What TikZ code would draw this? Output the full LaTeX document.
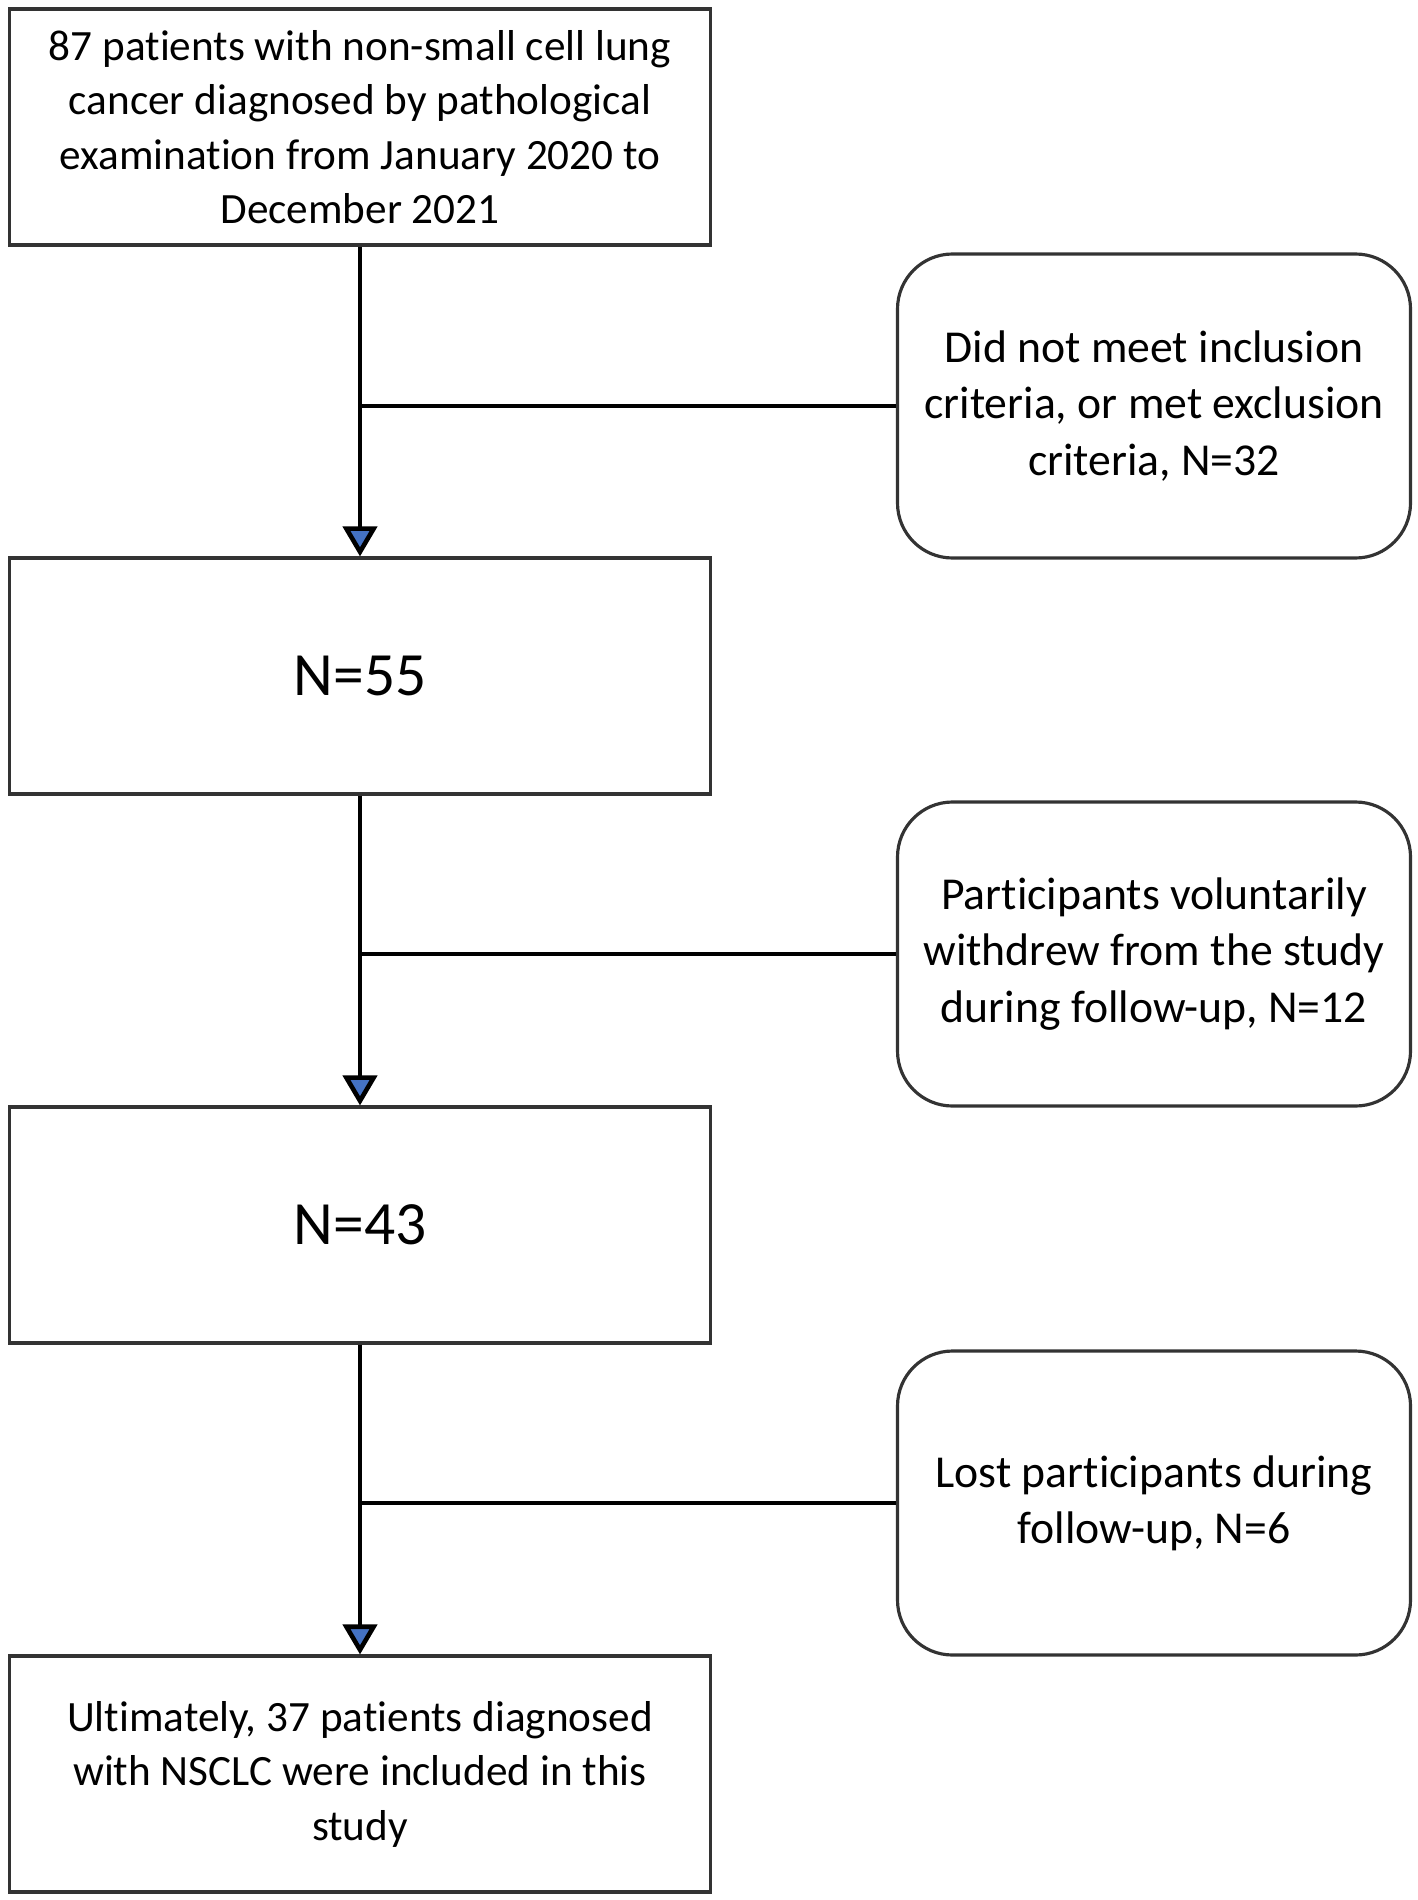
\documentclass[tikz,border=0pt]{standalone}
\usepackage{fontspec}
\setmainfont{Carlito}[Ligatures=NoCommon]
\usetikzlibrary{arrows.meta}
\definecolor{arrowblue}{RGB}{68,114,196}

\begin{document}
\begin{tikzpicture}
  [every node/.style={draw=black!80, line width=0.9pt, align=center, font=\fontsize{12.3}{15.5}\selectfont},
   mainbox/.style={minimum width=7.01cm, minimum height=2.36cm},
   sidebox/.style={rounded corners=0.55cm, minimum width=5.13cm, minimum height=3.04cm, font=\fontsize{13}{16}\selectfont},
   countbox/.style={mainbox, font=\fontsize{17.5}{22}\selectfont},
   flow/.style={line width=1.3pt, -{Triangle[width=0.34cm,length=0.3cm,fill=arrowblue]}}]
  \useasboundingbox (0,0) rectangle (14.18,-19.00);

  \node[mainbox]  (n1) at (3.60,-1.27)  {87 patients with non-small cell lung\\cancer diagnosed by pathological\\examination from January 2020 to\\December 2021};
  \node[countbox] (n2) at (3.60,-6.76)  {N=55};
  \node[countbox] (n3) at (3.60,-12.25) {N=43};
  \node[mainbox]  (n4) at (3.60,-17.74) {Ultimately, 37 patients diagnosed\\with NSCLC were included in this\\study};

  \node[sidebox] (s1) at (11.54,-4.06)  {Did not meet inclusion\\criteria, or met exclusion\\criteria, N=32};
  \node[sidebox] (s2) at (11.54,-9.54)  {Participants voluntarily\\withdrew from the study\\during follow-up, N=12};
  \node[sidebox] (s3) at (11.54,-15.03) {Lost participants during\\follow-up, N=6};

  \foreach \from/\to in {n1/n2,n2/n3,n3/n4}
    \draw[flow] (\from) -- (\to);
  \foreach \from/\to in {n1/s1,n2/s2,n3/s3}
    \draw[line width=1pt] (\from.south |- \to.west) -- (\to.west);
\end{tikzpicture}
\end{document}
